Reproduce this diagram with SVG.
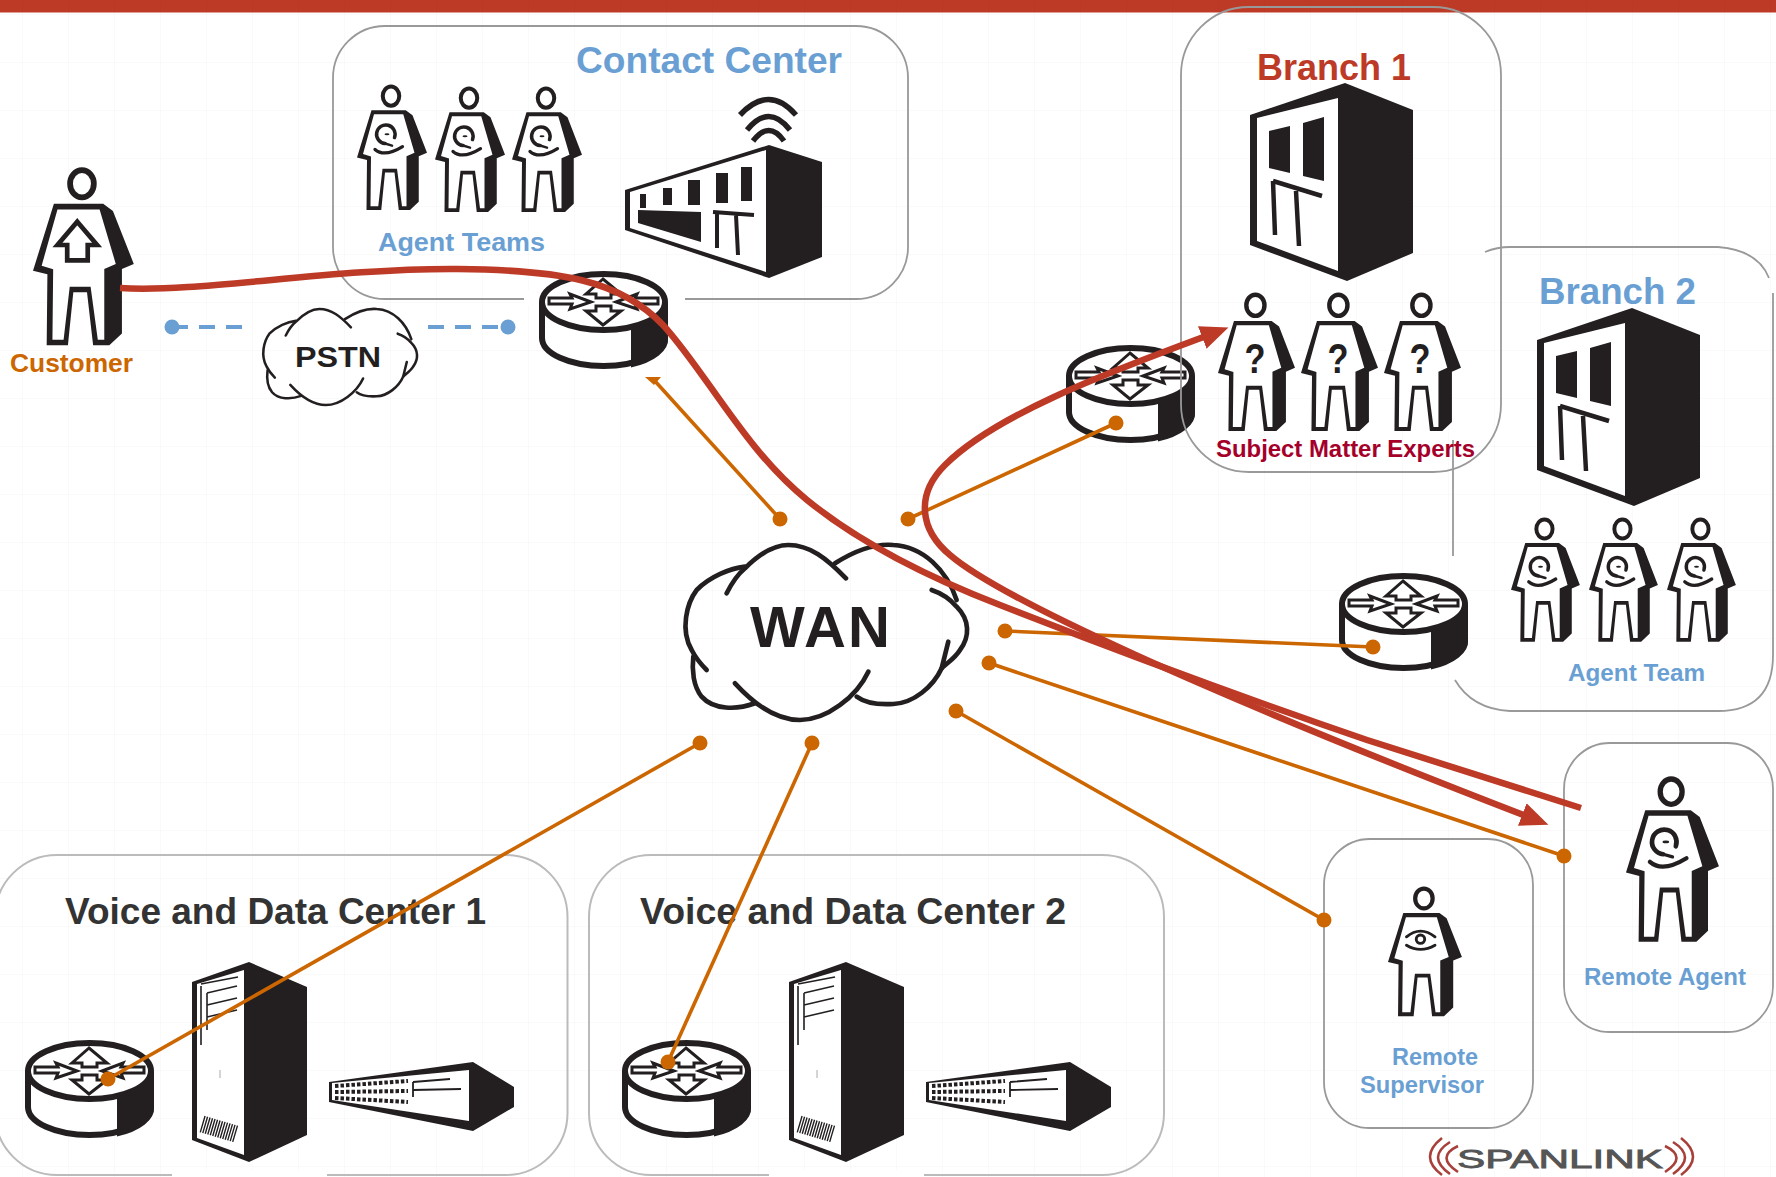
<svg xmlns="http://www.w3.org/2000/svg" width="1776" height="1177" viewBox="0 0 1776 1177">
<style>
text{font-family:"Liberation Sans",Arial,sans-serif;font-weight:700}
.blue{fill:#6a9fd3}
.box{fill:none;stroke:#999;stroke-width:1.8}
.lbox{fill:none;stroke:#bbb;stroke-width:2}
.dark{fill:#231f20}
.w{fill:#fff}
.ln{stroke:#231f20;fill:none}
.org{stroke:#cc6600;stroke-width:3.6;fill:none}
.dot{fill:#cc6600}
.bd{fill:#6a9fd3}
.red{stroke:#bd3a27;stroke-width:6.5;fill:none}
.cl{fill:none;stroke:#231f20;stroke-width:14;stroke-linecap:round;stroke-linejoin:round}
.arr{fill:#fff;stroke:#231f20;stroke-width:3;stroke-linejoin:miter}
.bar{stroke:#a8403a;stroke-width:2.6;fill:none}
</style>
<defs>
<pattern id="grid" width="46" height="48" patternUnits="userSpaceOnUse" x="22" y="14">
<path d="M0 0V48M0 0H46" stroke="#000" stroke-opacity=".035" stroke-width="1" fill="none"/>
</pattern>
<marker id="head" markerUnits="userSpaceOnUse" markerWidth="30" markerHeight="30" viewBox="0 0 30 30" refX="4" refY="15" orient="auto-start-reverse">
<path d="M0 3L28 15L0 27Z" fill="#bd3a27"/>
</marker>
<g id="person">
<ellipse cx="136" cy="44" rx="33" ry="38" fill="#fff" stroke="#231f20" stroke-width="16"/>
<path class="dark" d="M58,100L195,100L222,120L280,268L247,282V462L212,495H167L150,347H112L97,495H38L40,297L0,287Z"/>
<path class="w" d="M68,116L185,116L230,268L198,282V480H180L160,332H102L85,480H54L56,283L24,273Z"/>
</g>
<g id="headset" fill="none" stroke="#231f20" stroke-linecap="round">
<path stroke-width="14" d="M150,208A37,37 0 1 0 112,232"/>
<path stroke-width="13" d="M72,255Q110,288 182,244"/>
<path stroke-width="10" d="M112,232L140,240"/>
<ellipse cx="120" cy="195" rx="10" ry="4" fill="#231f20" stroke="none"/>
</g>
<path id="uparrow" d="M123,150L178,215H152V258H95V215H68Z" fill="#fff" stroke="#231f20" stroke-width="13"/>
<g id="eye" fill="none" stroke="#231f20" stroke-width="11" stroke-linecap="round">
<path d="M70,191Q123,147 178,191"/><path d="M70,223Q123,255 178,223"/>
<circle cx="123" cy="200" r="16"/>
</g>
<g id="router">
<ellipse cx="64.500" cy="67" rx="61.500" ry="28" fill="#fff" stroke="#231f20" stroke-width="6"/>
<rect x="3" y="31" width="123" height="36" fill="#fff"/>
<path class="dark" d="M92,55Q115,50 129,31V67A64.500,31 0 0 1 92,96.500Z"/>
<path class="ln" stroke-width="6" d="M3,31V67"/>
<ellipse cx="64.500" cy="31" rx="61.500" ry="28" fill="#fff" stroke="#231f20" stroke-width="6"/>
<path class="arr" d="M10,27L33,27L31,23L52,31L31,38L33,33L10,33Z"/>
<path class="arr" d="M119,27L96,27L98,23L77,31L98,38L96,33L119,33Z"/>
<path class="arr" d="M64,8L47,23H57V27H72V23H82Z"/>
<path class="arr" d="M57,35H72V40H82L64,54L47,40H57Z"/>
</g>
<g id="building">
<path class="dark" d="M0,32L95,0L163,27V170L97,198L0,162Z"/>
<path class="w" d="M7,35L88,15V188L7,158Z"/>
<path class="dark" d="M19,48L40,43V90L19,85ZM53,40L74,34V98L53,93Z"/>
<path class="ln" stroke-width="4.500" d="M23,98L72,113M23,98L25,152M46,108L49,163"/>
</g>
<g id="server">
<path class="dark" d="M0,20L57,0L115,25V173L57,200L0,178Z"/>
<path class="w" d="M5,22L52,8V193L5,176Z"/>
<path class="ln" stroke-width="1.600" d="M9,22L46,15M15,31L45,24M15,43L45,36M15,55L45,48M9,24V83M15,31V68"/>
<path d="M10,162L44,172" stroke="#231f20" stroke-width="17" stroke-dasharray="1.400 1.200" fill="none"/>
<path d="M28,108V116" stroke="#aaa" stroke-width="1" fill="none"/>
</g>
<g id="switch">
<path class="dark" d="M0,20L144,0L185,25V45L144,69L0,40Z"/>
<path class="w" d="M3,21L140,8V59L3,38Z"/>
<path class="ln" stroke-width="4" stroke-dasharray="3.500 2" d="M6,24L79,19M6,30L79,29M6,36L79,40"/>
<path class="ln" stroke-width="1.800" d="M84,20L121,17M84,28L132,27M84,20V35"/>
</g>
<g id="cloud">
<path class="cl" d="M125,205Q150,155 180,130C225,85 265,60 310,60C375,60 425,100 483,160"/>
<path class="cl" d="M450,115C505,80 565,55 625,60C715,65 785,135 815,225"/>
<path class="cl" d="M740,195Q785,210 815,245C855,285 855,335 825,375C810,400 785,415 770,430L790,350"/>
<path class="cl" d="M770,430C745,485 685,535 625,537C575,540 535,530 515,515"/>
<path class="cl" d="M550,440C515,515 425,585 345,585C275,585 205,535 150,475"/>
<path class="cl" d="M210,535C155,555 85,555 50,515C25,485 20,435 25,395"/>
<path class="cl" d="M65,435Q35,405 20,375C-15,315 5,235 35,195C75,155 135,130 180,125"/>
</g>
</defs>

<rect width="1776" height="1177" fill="#fff"/>
<rect id="topbar" width="1776" height="12.500" fill="#bd3a27"/>
<rect width="1776" height="1177" fill="url(#grid)"/>

<g id="contact-center">
<rect class="box" x="333" y="26" width="575" height="273" rx="52"/>
<text x="576" y="73" font-size="36" class="blue" textLength="266" lengthAdjust="spacingAndGlyphs">Contact Center</text>
<g transform="translate(357,85) scale(.25,.2525)"><use href="#person"/><use href="#headset"/></g>
<g transform="translate(435,87) scale(.25,.2525)"><use href="#person"/><use href="#headset"/></g>
<g transform="translate(512,87) scale(.25,.2525)"><use href="#person"/><use href="#headset"/></g>
<text x="378" y="251" font-size="26" class="blue" textLength="167" lengthAdjust="spacingAndGlyphs">Agent Teams</text>
<g id="cc-building">
<path class="dark" d="M625,190L769,145L822,162V257L769,278L625,230Z"/>
<path class="w" d="M630,192L766,150V272L630,228Z"/>
<path class="dark" d="M640,194h6v14h-6zM663,188h9v17h-9zM688,180h12v25h-12zM716,173h12v30h-12zM741,167h11v34h-11zM638,210L701,212V242L638,223Z"/>
<path class="ln" stroke-width="4" d="M713,212L754,215M717,213V248M736,215L738,255"/>
<path class="ln" stroke-width="5.500" d="M740,115Q769,84 796,115M747,130Q769,103 790,130M753,141Q769,120 784,141"/>
</g>
</g>

<g id="customer">
<g transform="translate(33,168) scale(.36,.358)"><use href="#person"/><use href="#uparrow"/></g>
<text x="10" y="372" font-size="26" fill="#cc6600" textLength="123" lengthAdjust="spacingAndGlyphs">Customer</text>
</g>

<g id="pstn">
<g transform="translate(263,298) scale(.182,.183)"><use href="#cloud"/></g>
<text x="295" y="367" font-size="30" fill="#231f20" textLength="86" lengthAdjust="spacingAndGlyphs">PSTN</text>
</g>

<g id="cc-router">
<rect x="524" y="290" width="161" height="16" class="w"/>
<use href="#router" x="539" y="271"/>
</g>

<g id="branch-1-router"><use href="#router" x="1066" y="345"/></g>

<g id="branch-2">
<path class="box" d="M1485,252Q1497,247 1510,247H1718Q1758,250 1769,278M1773,293V655Q1773,711 1718,711H1510Q1472,709 1455,680M1453,440V556"/>
<text x="1539" y="304" font-size="36" class="blue" textLength="157" lengthAdjust="spacingAndGlyphs">Branch 2</text>
<use href="#building" transform="translate(1537,308)"/>
<g transform="translate(1511,518) scale(.246,.25)"><use href="#person"/><use href="#headset"/></g>
<g transform="translate(1589,518) scale(.246,.25)"><use href="#person"/><use href="#headset"/></g>
<g transform="translate(1667,518) scale(.246,.25)"><use href="#person"/><use href="#headset"/></g>
<text x="1568" y="681" font-size="24" class="blue" textLength="137" lengthAdjust="spacingAndGlyphs">Agent Team</text>
<use href="#router" x="1339" y="573"/>
</g>

<g id="branch-1">
<rect class="box" x="1181" y="7" width="320" height="465" rx="68"/>
<text x="1257" y="80" font-size="36" fill="#bd3a27" textLength="154" lengthAdjust="spacingAndGlyphs">Branch 1</text>
<use href="#building" transform="translate(1250,83)"/>
<g transform="translate(1218,293) scale(.275,.279)"><use href="#person"/></g>
<g transform="translate(1301,293) scale(.275,.279)"><use href="#person"/></g>
<g transform="translate(1384,293) scale(.275,.279)"><use href="#person"/></g>
<text x="1255" y="373" font-size="42" fill="#231f20" text-anchor="middle" textLength="21" lengthAdjust="spacingAndGlyphs">?</text>
<text x="1338" y="373" font-size="42" fill="#231f20" text-anchor="middle" textLength="21" lengthAdjust="spacingAndGlyphs">?</text>
<text x="1420" y="373" font-size="42" fill="#231f20" text-anchor="middle" textLength="21" lengthAdjust="spacingAndGlyphs">?</text>
<text x="1216" y="457" font-size="24" fill="#a5002a" textLength="259" lengthAdjust="spacingAndGlyphs">Subject Matter Experts</text>
</g>

<g id="wan">
<g transform="translate(660,500) scale(.3333)"><use href="#cloud" x="75" y="75"/></g>
<text x="750" y="647" font-size="58" fill="#231f20" textLength="140" lengthAdjust="spacing">WAN</text>
</g>

<g id="vdc-1">
<rect class="lbox" x="-5" y="855" width="572.500" height="320" rx="62"/>
<text x="65" y="924" font-size="37.500" fill="#333" textLength="421" lengthAdjust="spacingAndGlyphs">Voice and Data Center 1</text>
<use href="#router" x="25" y="1040"/>
<rect x="172" y="1170" width="155" height="7" class="w"/>
<use href="#server" x="192" y="962"/>
<use href="#switch" x="329" y="1062"/>
</g>

<g id="vdc-2">
<rect class="lbox" x="589" y="855" width="575" height="320" rx="62"/>
<text x="640" y="924" font-size="37.500" fill="#333" textLength="426" lengthAdjust="spacingAndGlyphs">Voice and Data Center 2</text>
<use href="#router" x="622" y="1040"/>
<rect x="769" y="1170" width="155" height="7" class="w"/>
<use href="#server" x="789" y="962"/>
<use href="#switch" x="926" y="1062"/>
</g>

<g id="remote-supervisor">
<rect class="box" x="1324" y="839" width="209" height="289" rx="46"/>
<g transform="translate(1388,887) scale(.264,.261)"><use href="#person"/><use href="#eye"/></g>
<text x="1392" y="1065" font-size="24" class="blue" textLength="86" lengthAdjust="spacingAndGlyphs">Remote</text>
<text x="1360" y="1093" font-size="24" class="blue" textLength="124" lengthAdjust="spacingAndGlyphs">Supervisor</text>
</g>

<g id="remote-agent">
<rect class="box" x="1564" y="743" width="209" height="289" rx="46"/>
<g transform="translate(1626,777) scale(.332,.333)"><use href="#person"/><use href="#headset"/></g>
<text x="1584" y="985" font-size="24" class="blue" textLength="162" lengthAdjust="spacingAndGlyphs">Remote Agent</text>
</g>

<g id="spanlink-logo">
<text x="1457" y="1168" font-size="25" fill="#555" stroke="#555" stroke-width=".8" style="font-weight:400" textLength="206" lengthAdjust="spacingAndGlyphs">SPANLINK</text>
<path class="bar" d="M1442,1138Q1418,1157 1442,1175M1450,1142Q1426,1157 1450,1174M1458,1146Q1435,1157 1458,1172"/>
<path class="bar" d="M1681,1138Q1705,1157 1681,1175M1673,1142Q1697,1157 1673,1174M1665,1146Q1688,1157 1665,1172"/>
</g>

<g id="connectors">
<path class="org" d="M780,519L654,380"/>
<path d="M645,377H661L654,385Z" class="dot"/>
<circle class="dot" cx="780" cy="519" r="7.500"/>
<path class="org" d="M908,519L1116,423"/>
<circle class="dot" cx="908" cy="519" r="7.500"/><circle class="dot" cx="1116" cy="423" r="7.500"/>
<path class="org" d="M1005,631L1373,647"/>
<circle class="dot" cx="1005" cy="631" r="7.500"/><circle class="dot" cx="1373" cy="647" r="7.500"/>
<path class="org" d="M989,663L1564,856"/>
<circle class="dot" cx="989" cy="663" r="7.500"/><circle class="dot" cx="1564" cy="856" r="7.500"/>
<path class="org" d="M956,711L1324,920"/>
<circle class="dot" cx="956" cy="711" r="7.500"/><circle class="dot" cx="1324" cy="920" r="7.500"/>
<path class="org" d="M700,743L108,1079"/>
<circle class="dot" cx="700" cy="743" r="7.500"/><circle class="dot" cx="108" cy="1079" r="7.500"/>
<path class="org" d="M812,743L668,1062"/>
<circle class="dot" cx="812" cy="743" r="7.500"/><circle class="dot" cx="668" cy="1062" r="7.500"/>
<path d="M172,327H245M428,327H508" stroke="#6a9fd3" stroke-width="4" stroke-dasharray="16 11" fill="none"/>
<circle class="bd" cx="172" cy="327" r="7.500"/><circle class="bd" cx="508" cy="327" r="7.500"/>
<path class="red" d="M120,288C200,293 330,268 458,269C560,270 620,280 663,325C706,372 745,450 807,500C860,543 930,578 1000,605C1120,652 1250,700 1367,740L1581,808"/>
<path class="red" marker-start="url(#head)" marker-end="url(#head)" d="M1206,336C1130,365 1000,410 945,465C915,495 920,530 950,555C1000,598 1200,690 1526,816"/>
</g>
</svg>
